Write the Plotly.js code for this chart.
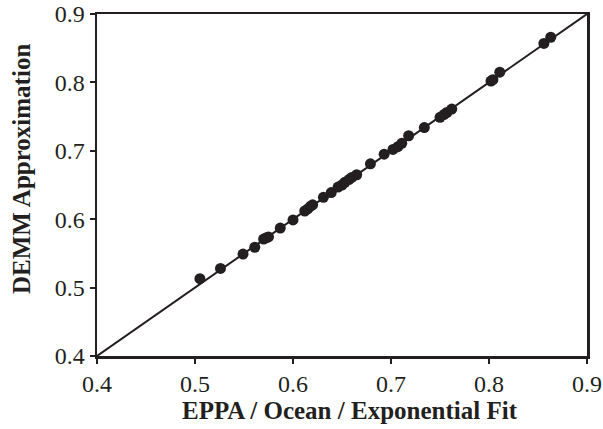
<!DOCTYPE html>
<html>
<head>
<meta charset="utf-8">
<script src="https://cdn.plot.ly/plotly-3.0.1.min.js"></script>
<style>html,body{margin:0;padding:0;background:#fff;}</style>
</head>
<body>
<div id="chart" style="width:603px;height:429px;"></div>
<script>
// Exponential-fit values (EPPA / Ocean) against the DEMM approximation
const fitValues = [0.505, 0.526, 0.549, 0.561, 0.570, 0.573, 0.575, 0.587, 0.600, 0.612, 0.615, 0.618,
  0.620, 0.631, 0.639, 0.646, 0.650, 0.653, 0.657, 0.660, 0.665, 0.679, 0.693, 0.702, 0.707, 0.711,
  0.718, 0.734, 0.750, 0.754, 0.757, 0.762, 0.802, 0.804, 0.811, 0.856, 0.863];
const demmValues = [0.513, 0.528, 0.549, 0.559, 0.571, 0.573, 0.574, 0.587, 0.599, 0.612, 0.615, 0.619,
  0.621, 0.632, 0.639, 0.647, 0.650, 0.654, 0.658, 0.661, 0.665, 0.681, 0.695, 0.702, 0.706, 0.711,
  0.722, 0.734, 0.749, 0.753, 0.756, 0.761, 0.802, 0.804, 0.815, 0.857, 0.866];
const identityLine = [0.4, 0.9];

const xTitle = 'EPPA / Ocean / Exponential Fit';
const yTitle = 'DEMM Approximation';

const serif = "Liberation Serif, Times New Roman, serif";
const ink = '#231f20';

const axisStyle = {
  range: [0.4, 0.9], dtick: 0.1, tick0: 0.4, tickformat: '.1f',
  showgrid: false, zeroline: false,
  showline: true, linewidth: 2.5, linecolor: ink, mirror: true,
  ticks: 'outside', ticklen: 5, tickwidth: 2, tickcolor: ink,
  tickfont: {family: serif, size: 24, color: ink}
};

Plotly.newPlot('chart', [
  {
    x: identityLine, y: identityLine, type: 'scatter', mode: 'lines',
    line: {color: ink, width: 2}, hoverinfo: 'skip'
  },
  {
    x: fitValues, y: demmValues, type: 'scatter', mode: 'markers',
    marker: {color: ink, size: 11, line: {width: 0}}
  }
], {
  width: 603, height: 429,
  margin: {l: 97, r: 16, t: 14, b: 73},
  showlegend: false,
  paper_bgcolor: '#fff', plot_bgcolor: '#fff',
  font: {family: serif, color: ink, size: 24},
  xaxis: Object.assign({}, axisStyle),
  yaxis: Object.assign({}, axisStyle),
  annotations: [
    {
      text: '<b>' + xTitle + '</b>', xref: 'paper', yref: 'paper',
      x: 0.516, y: -0.158, xanchor: 'center', yanchor: 'middle', showarrow: false,
      font: {family: serif, size: 25, color: ink}
    },
    {
      text: '<b>' + yTitle + '</b>', xref: 'paper', yref: 'paper', textangle: -90,
      x: -0.153, y: 0.547, xanchor: 'center', yanchor: 'middle', showarrow: false,
      font: {family: serif, size: 25, color: ink}
    }
  ]
}, {displayModeBar: false, staticPlot: true});
</script>
</body>
</html>
